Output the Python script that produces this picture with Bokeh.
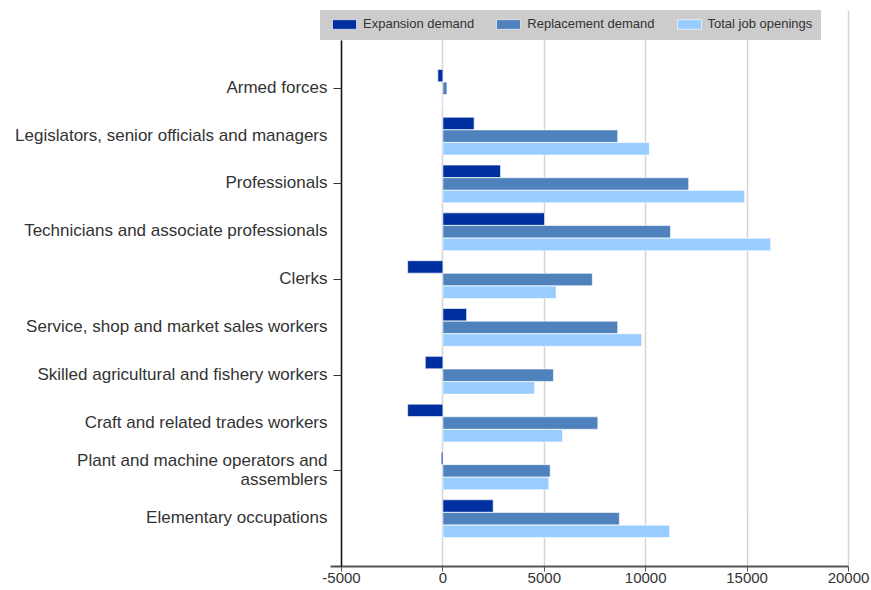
from bokeh.plotting import figure
from bokeh.models import (ColumnDataSource, Range1d, FixedTicker, Legend, LegendItem)
from bokeh.core.properties import value
from bokeh.embed import file_html
from bokeh.resources import INLINE

categories = [
    "Armed forces",
    "Legislators, senior officials and managers",
    "Professionals",
    "Technicians and associate professionals",
    "Clerks",
    "Service, shop and market sales workers",
    "Skilled agricultural and fishery workers",
    "Craft and related trades workers",
    "Plant and machine operators and\nassemblers",
    "Elementary occupations",
]
expansion = [-250, 1540, 2840, 5010, -1740, 1170, -870, -1740, -80, 2480]
replacement = [200, 8620, 12120, 11220, 7370, 8620, 5450, 7640, 5290, 8700]
total = [-50, 10180, 14880, 16160, 5580, 9800, 4520, 5900, 5220, 11180]
x_ticks = [-5000, 0, 5000, 10000, 15000, 20000]

series_names = ["Expansion demand", "Replacement demand", "Total job openings"]
colors = ["#0030A0", "#4F81BD", "#99CCFF"]
offsets = [-0.265, 0.0, 0.265]
bar_h = 0.26

pos = [i + 1 for i in range(len(categories))]

FONT = "Liberation Sans"

# frame spans x 12..860 px and y 10..566 px; the value axis starts at x_ticks[0]
p = figure(frame_width=848, frame_height=556, output_backend="svg",
           toolbar_location=None, x_range=Range1d(-21223, 20592),
           y_range=Range1d(11, -0.627), min_border_left=12, min_border_right=10,
           min_border_top=10, min_border_bottom=0, outline_line_color=None)

renderers = []
for vals, off, col in zip([expansion, replacement, total], offsets, colors):
    src = ColumnDataSource(dict(y=[v + off for v in pos], right=vals))
    r = p.hbar(y="y", left=0, right="right", height=bar_h, source=src,
               fill_color=col, line_color="white", line_alpha=0.6, line_width=1)
    renderers.append(r)

# category labels next to the category axis
lab_src = ColumnDataSource(dict(x=[x_ticks[0]] * len(categories), y=pos, text=categories))
p.text(x="x", y="y", text="text", source=lab_src, x_offset=-14, y_offset=-1,
       text_align="right", text_baseline="middle", text_font=value(FONT),
       text_font_size="17px", text_color="#333333", text_line_height=1.0)

# x axis
p.xaxis.ticker = FixedTicker(ticks=x_ticks)
p.xaxis.bounds = (-5550, 20000)
p.xaxis.major_label_overrides = {t: str(t) for t in x_ticks}
p.xaxis.major_label_text_font = FONT
p.xaxis.major_label_text_font_size = "15px"
p.xaxis.major_label_text_color = "#333333"
p.xaxis.axis_line_color = "#555555"
p.xaxis.axis_line_width = 2
p.xaxis.major_tick_line_color = "#555555"
p.xaxis.major_tick_out = 5
p.xaxis.major_tick_in = 0
p.xaxis.minor_tick_line_color = None
p.xaxis.major_label_standoff = 1

# y axis drawn at x = -5000
p.yaxis.fixed_location = x_ticks[0]
p.yaxis.bounds = (0, 11)
p.yaxis.ticker = FixedTicker(ticks=pos, minor_ticks=[1, 3, 5, 7, 9, 11])
p.yaxis.major_label_overrides = {v: "" for v in pos}
p.yaxis.major_label_text_font_size = "1px"
p.yaxis.major_label_standoff = 0
p.yaxis.axis_line_color = "#111111"
p.yaxis.axis_line_width = 1.5
p.yaxis.major_tick_out = 0
p.yaxis.major_tick_in = 0
p.yaxis.minor_tick_out = 8
p.yaxis.minor_tick_in = 0
p.yaxis.minor_tick_line_color = "#333333"

p.xgrid.grid_line_color = "#d4d4d4"
p.xgrid.grid_line_width = 1.5
p.ygrid.grid_line_color = None

legend = Legend(items=[LegendItem(label=n, renderers=[r]) for n, r in zip(series_names, renderers)],
                orientation="horizontal", location=(308, 526),
                background_fill_color="#CCCCCC", background_fill_alpha=1,
                border_line_color="#CCCCCC", border_line_width=1,
                label_text_font=FONT,
                label_text_font_size="13px", label_text_color="#333333",
                glyph_width=30, glyph_height=12, label_standoff=4, spacing=19,
                padding=8, margin=0, label_height=14)
p.add_layout(legend, "center")

open("out.html", "w").write(file_html(p, INLINE))
